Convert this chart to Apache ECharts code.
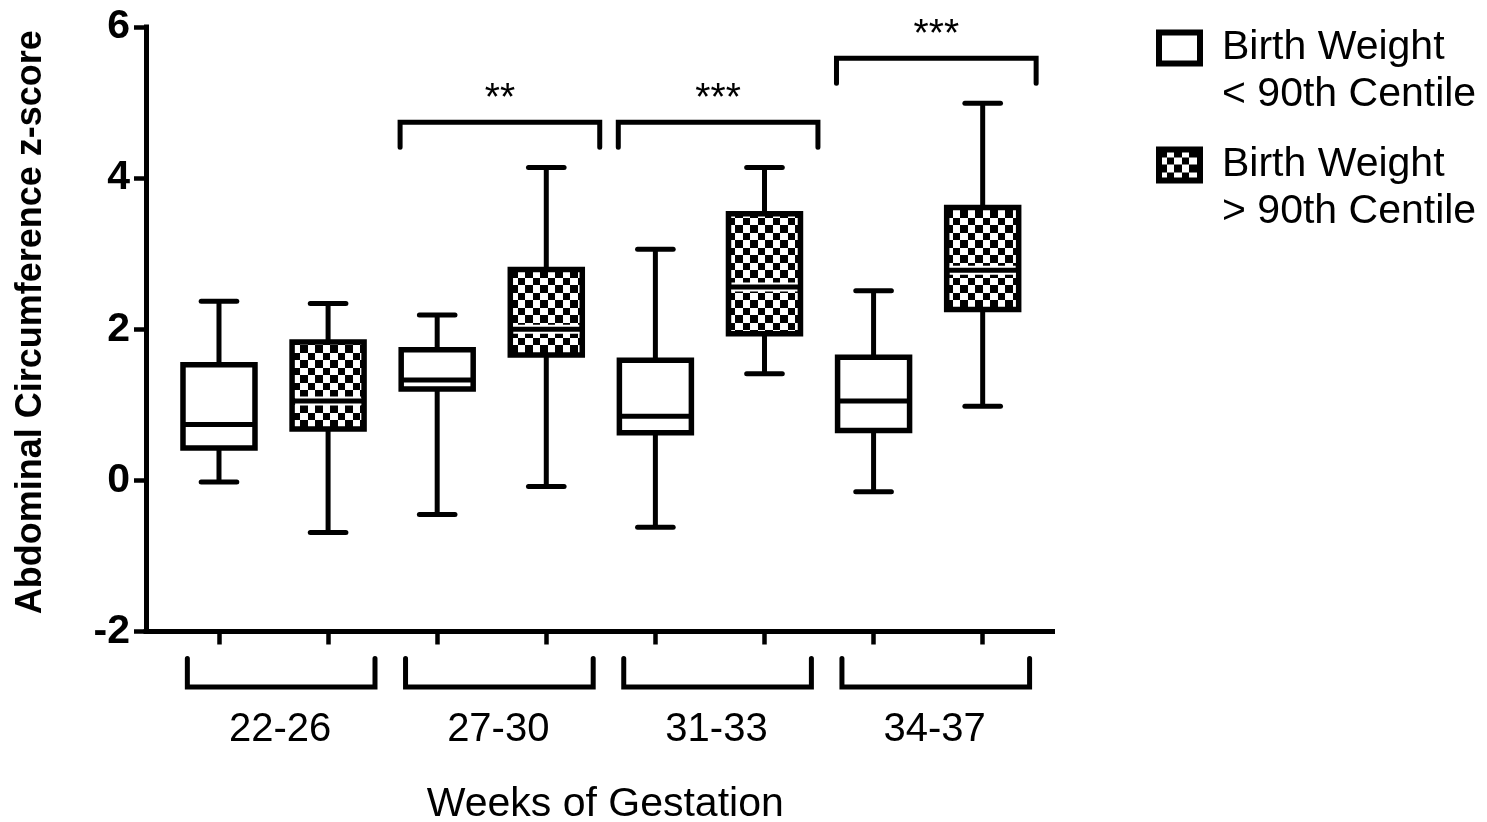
<!DOCTYPE html>
<html><head><meta charset="utf-8">
<script src="https://cdn.jsdelivr.net/npm/echarts@6/dist/echarts.min.js"></script>
<style>html,body{margin:0;padding:0;background:#fff}#c{width:1487px;height:822px}</style>
</head><body><div id="c"></div>
<script>
// ---------- data ----------
const groups = ['22-26', '27-30', '31-33', '34-37'];
// each row: [min, q1, median, q3, max]
const below90 = [
  [-0.02, 0.43, 0.74, 1.53, 2.37],
  [-0.45, 1.21, 1.33, 1.73, 2.19],
  [-0.62, 0.63, 0.85, 1.59, 3.06],
  [-0.15, 0.66, 1.05, 1.63, 2.51]
];
const above90 = [
  [-0.69, 0.68, 1.05, 1.83, 2.34],
  [-0.08, 1.66, 2.00, 2.79, 4.14],
  [1.41, 1.94, 2.56, 3.53, 4.14],
  [0.98, 2.26, 2.78, 3.61, 4.99]
];
const seriesNames = ['Birth Weight < 90th Centile', 'Birth Weight > 90th Centile'];
const sigGroups = ['27-30', '31-33', '34-37'];
const sigLevels = [4.74, 4.74, 5.585];
const sigLabels = ['**', '***', '***'];
const yTicks = [-2, 0, 2, 4, 6];
const xTitle = 'Weeks of Gestation';
const yTitle = 'Abdominal Circumference z-score';

// ---------- styling ----------
const FONT = 'Liberation Sans, Arial, sans-serif';
const BLACK = '#000';

const pc = document.createElement('canvas');
pc.width = 15; pc.height = 15;
const pctx = pc.getContext('2d');
pctx.fillStyle = '#fff'; pctx.fillRect(0, 0, 15, 15);
pctx.fillStyle = '#000'; pctx.fillRect(0, 0, 8, 8); pctx.fillRect(8, 8, 7, 7);
const checker = { image: pc, repeat: 'repeat' };

function boxRenderer(patterned) {
  return function (params, api) {
    const x = api.value(0);
    const p = [1, 2, 3, 4, 5].map(d => api.coord([x, api.value(d)]));
    const cx = p[0][0];
    const yMin = p[0][1], yQ1 = p[1][1], yMed = p[2][1], yQ3 = p[3][1], yMax = p[4][1];
    const hw = 36, cw = 17.8, lw = 5;
    const ch = [
      { type: 'line', shape: { x1: cx, y1: yMax, x2: cx, y2: yQ3 }, style: { stroke: BLACK, lineWidth: lw } },
      { type: 'line', shape: { x1: cx, y1: yQ1, x2: cx, y2: yMin }, style: { stroke: BLACK, lineWidth: lw } },
      { type: 'line', shape: { x1: cx - cw, y1: yMax, x2: cx + cw, y2: yMax }, style: { stroke: BLACK, lineWidth: lw, lineCap: 'round' } },
      { type: 'line', shape: { x1: cx - cw, y1: yMin, x2: cx + cw, y2: yMin }, style: { stroke: BLACK, lineWidth: lw, lineCap: 'round' } },
      { type: 'rect', shape: { x: cx - hw, y: yQ3, width: 2 * hw, height: yQ1 - yQ3 },
        style: { fill: patterned ? checker : '#fff', stroke: BLACK, lineWidth: 5.5 } }
    ];
    if (patterned) {
      ch.push({ type: 'line', shape: { x1: cx - hw + 3, y1: yMed, x2: cx + hw - 3, y2: yMed }, style: { stroke: '#fff', lineWidth: 9 } });
    }
    ch.push({ type: 'line', shape: { x1: cx - hw, y1: yMed, x2: cx + hw, y2: yMed }, style: { stroke: BLACK, lineWidth: 5 } });
    return { type: 'group', children: ch };
  };
}

const lowData = below90.map((d, i) => [2 * i].concat(d));
const highData = above90.map((d, i) => [2 * i + 1].concat(d));
const groupData = groups.map((g, i) => [2 * i, yTicks[0]]);
const sigData = sigGroups.map((g, i) => [groups.indexOf(g) * 2, sigLevels[i]]);

const chart = echarts.init(document.getElementById('c'), null, { renderer: 'canvas' });
chart.setOption({
  animation: false,
  backgroundColor: '#fff',
  grid: { left: 146, right: 434.5, top: 27, bottom: 190.5, outerBoundsMode: 'none', containLabel: false },
  legend: {
    orient: 'vertical', left: 1156, top: -22.5, padding: 0,
    itemWidth: 41, itemHeight: 31, itemGap: -24, icon: 'rect', selectedMode: false,
    formatter: n => '\n' + n.replace(' <', '\n<').replace(' >', '\n>'),
    textStyle: { fontSize: 41, lineHeight: 47, color: BLACK, fontFamily: FONT, padding: [0, 0, 0, 17] },
    data: [
      { name: seriesNames[0], itemStyle: { color: '#fff', borderColor: BLACK, borderWidth: 6 } },
      { name: seriesNames[1], itemStyle: { color: checker, borderColor: BLACK, borderWidth: 6 } }
    ]
  },
  xAxis: {
    type: 'value', min: -0.669, max: 7.64,
    name: xTitle, nameLocation: 'middle', nameGap: 153,
    nameTextStyle: { fontSize: 41, color: BLACK, fontFamily: FONT, padding: [0, 0, 0, 12] },
    axisLine: { show: true, onZero: false, lineStyle: { color: BLACK, width: 5, cap: 'square' } },
    axisTick: { show: true, customValues: [0, 1, 2, 3, 4, 5, 6, 7], length: 13, lineStyle: { color: BLACK, width: 4.5 } },
    axisLabel: {
      show: true, customValues: groups.map((g, i) => 2 * i + 0.56), margin: 78,
      fontSize: 40, color: BLACK, fontFamily: FONT,
      formatter: v => groups[Math.round((v - 0.56) / 2)]
    },
    splitLine: { show: false }
  },
  yAxis: {
    type: 'value', min: yTicks[0], max: yTicks[yTicks.length - 1], interval: yTicks[1] - yTicks[0],
    name: yTitle, nameLocation: 'middle', nameGap: 97, nameRotate: 90,
    nameTextStyle: { fontSize: 36, fontWeight: 'bold', color: BLACK, fontFamily: FONT, padding: [0, 0, 0, 14] },
    axisLine: { show: true, onZero: false, lineStyle: { color: BLACK, width: 5, cap: 'square' } },
    axisTick: { show: true, length: 12, lineStyle: { color: BLACK, width: 4.5 } },
    axisLabel: { margin: 16, fontSize: 41, fontWeight: 'bold', color: BLACK, fontFamily: FONT },
    splitLine: { show: false }
  },
  series: [
    { type: 'custom', name: seriesNames[0], data: lowData, renderItem: boxRenderer(false),
      encode: { x: 0, y: [1, 2, 3, 4, 5] }, itemStyle: { color: '#fff', borderColor: BLACK, borderWidth: 6 }, silent: true, z: 3 },
    { type: 'custom', name: seriesNames[1], data: highData, renderItem: boxRenderer(true),
      encode: { x: 0, y: [1, 2, 3, 4, 5] }, itemStyle: { color: checker, borderColor: BLACK, borderWidth: 6 }, silent: true, z: 3 },
    { type: 'custom', name: 'groupBrackets', data: groupData, silent: true, clip: false,
      encode: { x: 0, y: 1 },
      renderItem: function (params, api) {
        const g = api.value(0);
        const a = api.coord([g - 0.29, api.value(1)]);
        const b = api.coord([g + 1.43, api.value(1)]);
        const y0 = a[1];
        return { type: 'polyline',
          shape: { points: [[a[0], y0 + 27], [a[0], y0 + 55.5], [b[0], y0 + 55.5], [b[0], y0 + 27]] },
          style: { stroke: BLACK, fill: null, lineWidth: 5, lineJoin: 'miter', lineCap: 'round' } };
      } },
    { type: 'custom', name: 'significance', data: sigData, silent: true, clip: false,
      encode: { x: 0, y: 1 },
      renderItem: function (params, api) {
        const g = api.value(0);
        const a = api.coord([g - 0.34, api.value(1)]);
        const b = api.coord([g + 1.49, api.value(1)]);
        const top = a[1];
        return { type: 'group', children: [
          { type: 'polyline',
            shape: { points: [[a[0], top + 25], [a[0], top], [b[0], top], [b[0], top + 25]] },
            style: { stroke: BLACK, fill: null, lineWidth: 5, lineJoin: 'miter', lineCap: 'round' } },
          { type: 'text', x: (a[0] + b[0]) / 2, y: top - 23,
            style: { text: sigLabels[params.dataIndex], fill: BLACK, fontSize: 39, fontFamily: FONT, align: 'center', verticalAlign: 'middle' } }
        ] };
      } }
  ]
});
</script></body></html>
